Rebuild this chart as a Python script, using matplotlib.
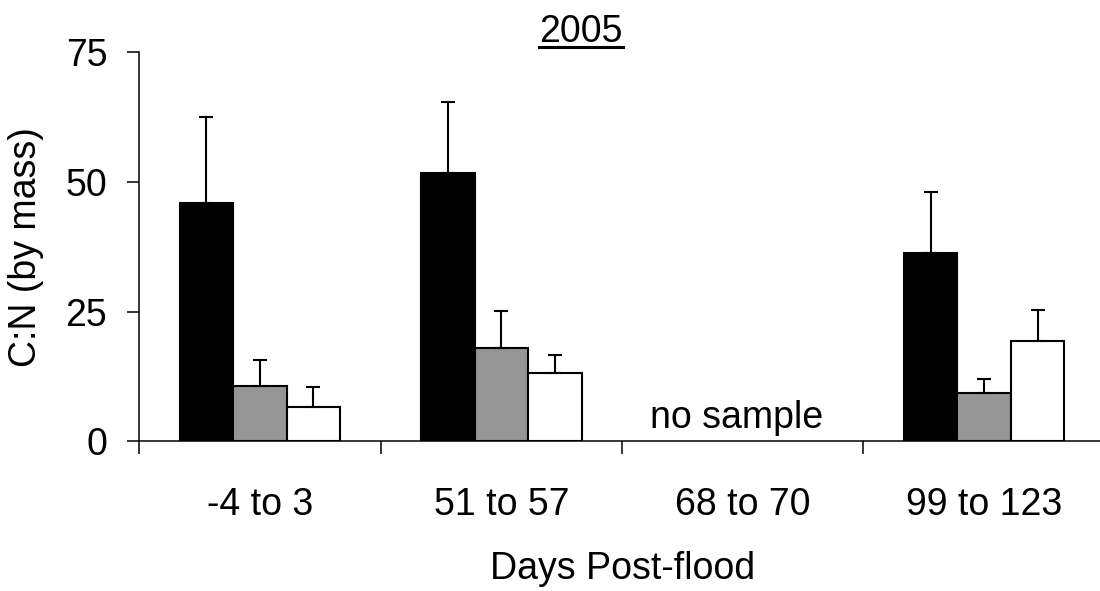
import matplotlib
matplotlib.use("Agg")
import matplotlib.pyplot as plt
from matplotlib.lines import Line2D
import numpy as np

plt.rcParams["font.family"] = ["Liberation Sans", "DejaVu Sans"]

# data (C:N by mass, 2005)
periods = ["-4 to 3", "51 to 57", "68 to 70", "99 to 123"]
black_vals = [46.0, 51.8, np.nan, 36.3]
black_err = [16.6, 13.6, np.nan, 11.7]
gray_vals = [10.7, 17.9, np.nan, 9.3]
gray_err = [4.9, 7.3, np.nan, 2.7]
white_vals = [6.6, 13.1, np.nan, 19.3]
white_err = [3.8, 3.5, np.nan, 6.0]

series = [(black_vals, black_err, "black"),
          (gray_vals, gray_err, "#969696"),
          (white_vals, white_err, "white")]

fig = plt.figure(figsize=(11, 5.91), dpi=100)
ax = fig.add_axes([0.1266, 0.2535, 0.8778, 0.6577])

w = 0.2216
centers = np.arange(len(periods)) + 0.5
for j, (vals, errs, col) in enumerate(series):
    v = np.array(vals)
    e = np.array(errs)
    ok = ~np.isnan(v)
    x = centers[ok] + (j - 1) * w
    ax.bar(x, v[ok], w, color=col, edgecolor="black", linewidth=1.5, zorder=2)
    ax.errorbar(x, v[ok], yerr=[np.zeros(ok.sum()), e[ok]], fmt="none",
                ecolor="black", elinewidth=1.5, capsize=5, capthick=1.5, zorder=3)

ax.text(2.475, 2.45, "no sample", fontsize=27, ha="center", va="baseline")

ax.set_xlim(0, len(periods))
ax.set_ylim(0, 75)
ax.set_yticks([0, 25, 50, 75])
ax.tick_params(axis="y", direction="out", length=9, width=1.1, pad=14, labelsize=27)
ax.set_xticks(np.arange(len(periods) + 1))
ax.set_xticklabels([])
ax.set_xticks(centers, minor=True)
ax.set_xticklabels(periods, minor=True)
ax.tick_params(axis="x", which="major", direction="out", length=9.4, width=1.1)
ax.tick_params(axis="x", which="minor", length=0, pad=33, labelsize=27)

for s in ["top", "right"]:
    ax.spines[s].set_visible(False)
for s in ["left", "bottom"]:
    ax.spines[s].set_linewidth(1.1)

fig.text(623 / 1100, 1 - 579 / 591, "Days Post-flood", fontsize=27,
         ha="center", va="baseline")
fig.text(26 / 1100, 0.5 * (1 - 52.5 / 591) + 0.5 * (1 - 441 / 591), "C:N (by mass)",
         fontsize=27, rotation=90, ha="center", va="center")
title = fig.text(581 / 1100, 1 - 42.3 / 591, "2005", fontsize=27,
                 ha="center", va="baseline")

# underline the title
fig.canvas.draw()
bb = title.get_window_extent()
H = fig.bbox.height
y_ul = (H - 46.7) / H
fig.add_artist(Line2D([bb.x0 / fig.bbox.width, bb.x1 / fig.bbox.width], [y_ul, y_ul],
                      transform=fig.transFigure, color="black", linewidth=2.2))

fig.savefig("out.png", dpi=100)
